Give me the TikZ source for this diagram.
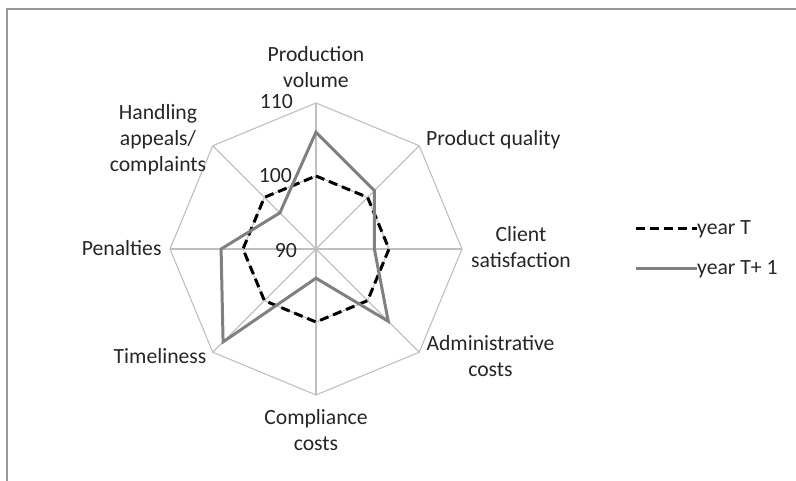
\documentclass[tikz,border=0pt]{standalone}
\usepackage{fontspec}
\setmainfont{Carlito}
\begin{document}
\begin{tikzpicture}[x=1pt,y=1pt,
  gridline/.style={draw=black!25, line width=1.1pt},
  frameline/.style={draw=black!40, line width=1.5pt},
  lab/.style={text=black!85, font=\fontsize{21.7}{26}\selectfont, align=center, inner sep=0pt},
  seriesT/.style={draw=black, line width=3pt, dash pattern=on 9pt off 5pt},
  seriesN/.style={draw=black!50, line width=3pt, line join=miter}]
\useasboundingbox (-316,-232) rectangle (480,249);
% frame
\coordinate (fa) at (-309,-232);
\coordinate (fb) at (-309,240);
\coordinate (fc) at (480,240);
\draw[frameline] (fa) -- (fb) -- (fc);
\coordinate (c) at (0,0);
% grid
\foreach \a in {0,45,...,315} \draw[gridline] (c) -- (\a:146);
\draw[gridline] (0:146) \foreach \a in {45,90,...,315}{ -- (\a:146)} -- cycle;
\draw[gridline] (0:73) \foreach \a in {45,90,...,315}{ -- (\a:73)} -- cycle;
% series year T (all 100)
\foreach \a/\n in {90/1,45/2,0/3,-45/4,-90/5,-135/6,180/7,135/8}
  \coordinate (t\n) at (\a:73);
\draw[seriesT] (t1) -- (t2) -- (t3) -- (t4) -- (t5) -- (t6) -- (t7) -- (t8) -- cycle;
% series year T+1
\foreach \a/\v/\n in {90/106/1,45/101.3/2,0/98/3,-45/104/4,-90/94/5,-135/108/6,180/103/7,135/97/8}
  \coordinate (u\n) at (\a:{(\v-90)/20*146});
\draw[seriesN] (u1) -- (u2) -- (u3) -- (u4) -- (u5) -- (u6) -- (u7) -- (u8) -- cycle;
% axis values
\node[lab, anchor=east] (v110) at (-23,147) {110};
\node[lab, anchor=east] (v100) at (-24,73) {100};
\node[lab, anchor=east] (v90) at (-19,-1.7) {90};
% category labels
\node[lab] (pv) at (0,182) {Production\\volume};
\node[lab, anchor=west] (pq) at (110,109) {Product quality};
\node[lab] (cs) at (205,1.5) {Client\\satisfaction};
\node[lab] (ac) at (174.5,-107.5) {Administrative\\costs};
\node[lab] (cc) at (0,-181) {Compliance\\costs};
\node[lab, anchor=east] (tl) at (-109.3,-107) {Timeliness};
\node[lab, anchor=east] (pe) at (-154.3,1) {Penalties};
\node[lab] (ha) at (-158,109) {Handling\\appeals/\\complaints};
% legend
\coordinate (l1a) at (320,20);
\coordinate (l1b) at (381,20);
\coordinate (l2a) at (320,-20);
\coordinate (l2b) at (381,-20);
\draw[seriesT] (l1a) -- (l1b);
\draw[seriesN] (l2a) -- (l2b);
\node[lab, anchor=west] (lt) at (l1b) {year T};
\node[lab, anchor=west] (ln) at (l2b) {year T+ 1};
\end{tikzpicture}
\end{document}
